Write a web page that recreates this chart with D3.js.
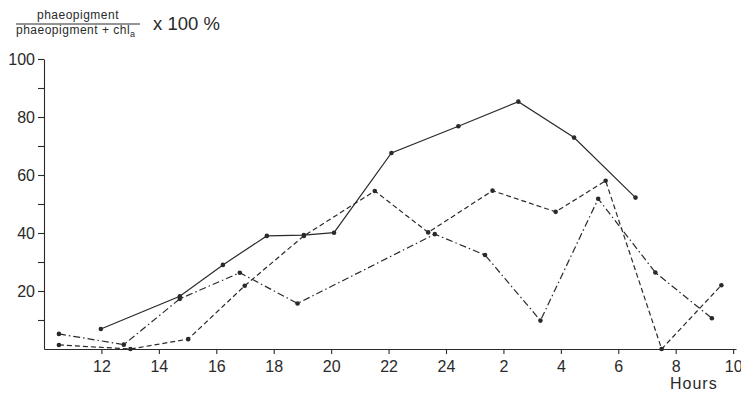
<!DOCTYPE html>
<html>
<head>
<meta charset="utf-8">
<script src="https://cdn.jsdelivr.net/npm/d3@7"></script>
<style>
  body { margin: 0; background: #fff; }
  text { font-family: "Liberation Sans", Arial, sans-serif; fill: #2a2a2a; }
</style>
</head>
<body>
<div id="svg"></div>
<script>
// three series, hours run past midnight (26 = 2 h next day)
const solidHours   = [11.98, 14.73, 16.23, 17.76, 19.05, 20.1, 22.1, 24.43, 26.52, 28.46, 30.6];
const solidValues  = [6.9, 18.2, 29, 39, 39.3, 40.1, 67.6, 76.8, 85.3, 72.9, 52.2];

const dashedHours  = [10.52, 13.01, 15.02, 16.99, 19.05, 21.52, 23.38, 25.62, 27.82, 29.56, 31.51, 33.59];
const dashedValues = [1.4, 0, 3.4, 21.8, 39, 54.5, 40.2, 54.6, 47.3, 58, 0, 22];

const dashDotHours  = [10.52, 12.78, 14.73, 16.82, 18.83, 23.61, 25.36, 27.29, 29.3, 31.29, 33.26];
const dashDotValues = [5.2, 1.5, 17.3, 26.3, 15.7, 39.6, 32.4, 9.8, 51.8, 26.4, 10.6];

const xTicks = [12, 14, 16, 18, 20, 22, 24, 26, 28, 30, 32, 34];
const xTickLabels = ['12', '14', '16', '18', '20', '22', '24', '2', '4', '6', '8', '10'];
const yTicks = [10, 20, 30, 40, 50, 60, 70, 80, 90, 100];

//set variables
const w = 741;
const h = 393;
const ink = '#2a2a2a';

const xScale = d3.scaleLinear().domain([10, 34.1]).range([44, 736]);
const yScale = d3.scaleLinear().domain([0, 100]).range([349, 59]);

const svg = d3.select('#svg')
    .append('svg')
    .attr('width', w)
    .attr('height', h);

//axes
const xAxis = d3.axisBottom(xScale)
    .tickValues(xTicks)
    .tickFormat((d, i) => xTickLabels[i])
    .tickSize(5)
    .tickSizeOuter(0)
    .tickPadding(7);

const yAxis = d3.axisLeft(yScale)
    .tickValues(yTicks)
    .tickFormat(d => d % 20 === 0 ? d : '')
    .tickSize(6)
    .tickSizeOuter(0)
    .tickPadding(3);

const gx = svg.append('g')
    .attr('transform', `translate(0,${yScale(0)})`)
    .call(xAxis);

const gy = svg.append('g')
    .attr('transform', `translate(${xScale(10)},0)`)
    .call(yAxis);

[gx, gy].forEach(g => {
    g.selectAll('path, line').attr('stroke', ink).attr('stroke-width', 1.1);
    g.selectAll('text')
        .attr('fill', ink)
        .style('font-family', '"Liberation Sans", Arial, sans-serif')
        .style('font-size', '16px');
});
gy.selectAll('text').attr('dy', '0.36em');

//lines
const series = [
    {hours: solidHours, values: solidValues, dash: null},
    {hours: dashedHours, values: dashedValues, dash: '5,3'},
    {hours: dashDotHours, values: dashDotValues, dash: '7,3,1.5,3'}
];

const line = d3.line()
    .x(d => xScale(d[0]))
    .y(d => yScale(d[1]));

series.forEach(s => {
    const pts = s.hours.map((hr, i) => [hr, s.values[i]]);
    svg.append('path')
        .datum(pts)
        .attr('d', line)
        .attr('fill', 'none')
        .attr('stroke', ink)
        .attr('stroke-width', 1.2)
        .attr('stroke-dasharray', s.dash);
    svg.append('g')
        .selectAll('circle')
        .data(pts)
        .enter()
        .append('circle')
        .attr('cx', d => xScale(d[0]))
        .attr('cy', d => yScale(d[1]))
        .attr('r', 2.3)
        .attr('fill', ink);
});

//y label as a fraction
svg.append('text')
    .attr('x', 78)
    .attr('y', 19)
    .attr('text-anchor', 'middle')
    .style('font-size', '12px')
    .style('letter-spacing', '0.5px')
    .text('phaeopigment');

svg.append('line')
    .attr('x1', 16).attr('x2', 140)
    .attr('y1', 24).attr('y2', 24)
    .attr('stroke', ink)
    .attr('stroke-width', 1);

const den = svg.append('text')
    .attr('x', 16)
    .attr('y', 34)
    .style('font-size', '12px')
    .style('letter-spacing', '0.5px');
den.append('tspan').text('phaeopigment + chl');
den.append('tspan').attr('dy', 3).style('font-size', '9px').text('a');

svg.append('text')
    .attr('x', 153)
    .attr('y', 30)
    .style('font-size', '18.5px')
    .text('x 100 %');

//x label
svg.append('text')
    .attr('x', 670)
    .attr('y', 389)
    .style('font-size', '16px')
    .style('letter-spacing', '1px')
    .text('Hours');
</script>
</body>
</html>
